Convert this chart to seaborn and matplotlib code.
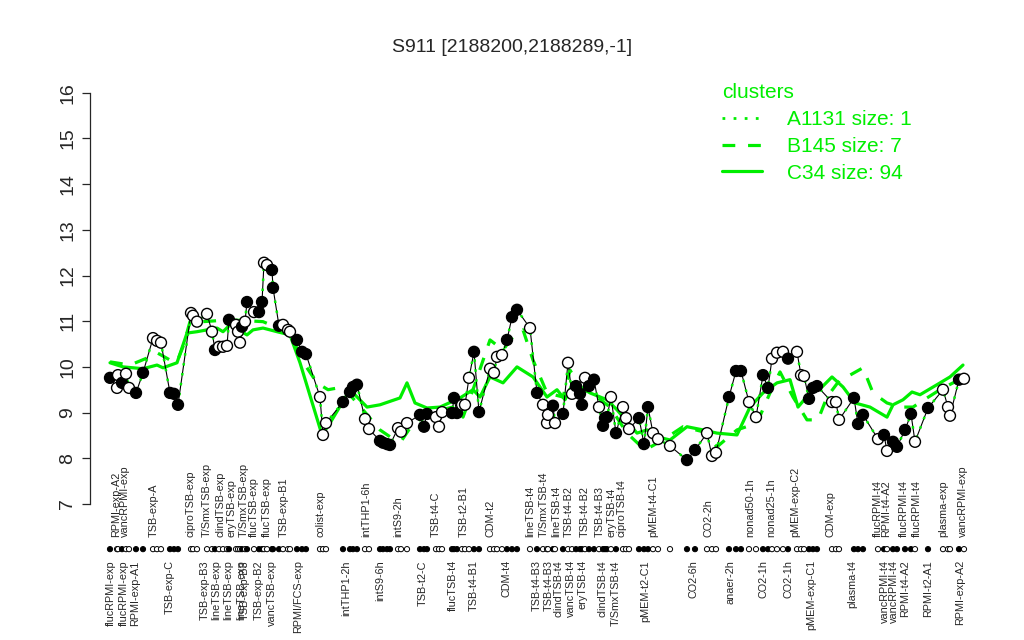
import matplotlib
matplotlib.use("Agg")
import matplotlib.pyplot as plt
from matplotlib.lines import Line2D
import seaborn as sns
import pandas as pd

# ---------------- data ----------------
title = "S911 [2188200,2188289,-1]"

sample_pos = [2.0,3.4,3.6,4.4,5.2,5.8,7.2,8.6,10.6,11.4,12.2,14.0,14.8,15.6,18.2,18.6,19.4,21.4,22.4,23.0,
              23.8,24.6,25.4,25.8,27.2,27.6,28.0,28.4,29.0,29.4,30.8,31.8,32.4,32.8,33.4,34.4,34.6,35.8,36.6,37.6,
              38.0,39.4,40.4,41.2,44.0,44.6,45.2,48.6,50.0,50.6,51.4,53.0,53.8,56.0,56.6,57.4,58.0,59.6,60.2,61.4,
              64.0,64.8,65.4,67.2,67.8,68.4,70.4,70.8,71.4,72.4,73.0,73.8,74.8,75.8,78.0,78.8,79.4,80.4,81.4,82.4,
              83.4,86.0,87.4,88.6,89.4,89.6,90.6,91.0,92.6,93.6,94.4,95.2,96.0,96.4,97.0,97.8,98.8,99.8,100.6,101.0,
              101.4,102.2,103.2,104.6,105.2,105.8,107.8,108.8,109.6,110.6,111.6,114.0,117.4,119.0,121.4,122.4,123.2,125.8,127.2,128.2,
              129.8,131.2,132.6,133.6,134.4,135.4,136.6,137.6,139.4,140.2,140.8,141.8,142.6,143.4,146.4,147.2,147.8,150.8,151.6,152.6,
              155.6,156.8,157.4,158.6,159.4,161.0,162.2,163.0,165.6,168.6,169.6,170.0,171.8,172.8]

expression = [9.76,9.54,9.82,9.65,9.85,9.54,9.43,9.87,10.63,10.57,10.53,9.43,9.41,9.17,11.18,11.12,10.99,11.16,10.77,10.37,
              10.44,10.44,10.46,11.03,10.92,10.77,10.53,10.88,10.99,11.42,11.20,11.20,11.42,12.28,12.23,12.12,11.73,10.90,10.92,10.81,
              10.77,10.59,10.33,10.28,9.34,8.51,8.77,9.23,9.45,9.56,9.61,8.86,8.64,8.38,8.34,8.31,8.29,8.66,8.58,8.77,
              8.95,8.69,8.97,8.90,8.69,9.01,8.99,9.32,8.99,9.17,9.17,9.76,10.33,9.01,9.96,9.87,10.22,10.26,10.59,11.09,
              11.25,10.85,9.43,9.17,8.77,8.95,9.15,8.77,8.97,10.09,9.41,9.58,9.41,9.17,9.76,9.58,9.72,9.12,8.71,8.88,
              8.90,9.34,8.55,9.12,8.88,8.64,8.88,8.31,9.12,8.55,8.42,8.27,7.96,8.18,8.55,8.05,8.12,9.34,9.91,9.91,
              9.23,8.90,9.82,9.54,10.18,10.31,10.33,10.18,10.33,9.82,9.80,9.30,9.54,9.58,9.23,9.23,8.84,9.32,8.75,8.95,
              8.42,8.51,8.16,8.36,8.25,8.62,8.97,8.36,9.10,9.50,9.12,8.93,9.72,9.74]

filled_flags = ("1001001100" "0111000001" "0001000101" "0110011100" "0111000111"
                "1001111000" "1110001110" "0011000011" "1010001010" "0111011011"
                "1010001110" "0011000111" "0011000100" "0111000111" "0101111010" "0010")

c34_pos = [2.0,4.6,6.6,8.6,11.4,12.6,15.4,17.4,19.4,21.4,23.4,24.6,26.0,29.4,30.6,32.6,35.4,38.0,40.0,44.4,
           46.0,50.0,53.4,56.0,57.6,60.0,61.4,63.0,65.4,68.0,72.0,74.6,76.0,78.0,80.6,83.4,86.6,89.4,91.4,93.0,
           94.6,98.0,101.4,103.4,107.4,109.4,111.4,114.0,117.4,120.6,123.4,127.4,130.0,132.6,135.4,138.0,139.6,142.0,144.4,146.4,
           148.6,151.0,154.0,157.4,158.6,160.6,162.4,164.0,167.4,170.0,172.6]
c34_val = [10.09,10.00,9.98,9.96,10.04,9.98,10.09,10.74,10.77,10.81,10.85,10.77,10.92,10.70,10.81,10.85,10.77,10.70,10.09,8.51,
           8.77,9.50,9.12,9.17,9.23,9.32,9.65,9.21,9.10,9.12,9.32,9.50,9.34,9.78,9.65,10.00,9.78,9.34,9.50,9.28,
           9.65,9.43,9.28,9.06,8.55,8.62,8.47,8.40,8.69,8.62,8.55,8.51,9.12,9.43,9.65,9.72,9.12,9.43,9.56,9.78,
           9.56,9.21,9.12,8.90,9.17,9.28,9.45,9.39,9.61,9.78,10.04]

b145_pos = [2.0,6.0,10.0,11.4,14.0,15.4,16.6,18.0,20.6,26.0,32.6,38.0,40.6,43.4,45.6,48.6,52.6,56.0,58.0,60.4,
            62.0,65.4,70.6,72.6,74.6,78.0,80.6,82.6,84.6,86.6,89.4,92.6,94.0,96.0,99.4,102.0,105.4,109.0,112.6,116.6,
            120.6,123.4,127.4,131.4,134.0,136.0,138.6,141.4,143.6,145.4,148.0,150.0,152.6,154.6,157.4,160.0,162.6,165.4,168.0,170.6,
            172.4]
b145_val = [10.11,10.04,10.22,10.31,10.15,10.11,10.44,10.99,10.99,11.03,10.99,10.74,10.11,9.65,9.50,9.56,9.06,8.62,8.47,8.40,
            8.66,8.99,9.12,8.90,9.50,10.59,10.37,10.66,10.81,10.15,9.43,9.34,9.93,9.56,9.34,9.12,8.55,8.18,8.40,8.69,
            8.58,8.25,8.62,8.77,9.43,9.89,9.34,8.84,8.84,9.34,9.72,9.82,9.98,9.43,9.21,9.12,9.12,9.32,9.50,9.65,
            9.72]

top_labels = ["RPMI-exp-A2","vancRPMI-exp","TSB-exp-A","ciproTSB-exp","T/SmxTSB-exp","clindTSB-exp","eryTSB-exp",
              "T/SmxTSB-exp","flucTSB-exp","flucTSB-exp","TSB-exp-B1","colist-exp","intTHP1-6h","intS9-2h","TSB-t4-C",
              "TSB-t2-B1","CDM-t2","lineTSB-t4","T/SmxTSB-t4","lineTSB-t4","TSB-t4-B2","TSB-t4-B2","TSB-t4-B3","eryTSB-t4",
              "ciproTSB-t4","pMEM-t4-C1","CO2-2h","nonad50-1h","nonad25-1h","pMEM-exp-C2","CDM-exp","flucRPMI-t4",
              "RPMI-t4-A2","flucRPMI-t4","flucRPMI-t4","plasma-exp","vancRPMI-exp"]
top_label_pos = [3.3,5.0,10.7,18.0,21.3,24.0,26.3,28.8,30.7,33.3,36.8,44.0,53.2,59.7,67.2,72.7,78.0,86.1,88.7,91.3,
                 93.7,97.0,100.0,102.3,104.3,110.7,121.7,130.0,134.3,139.0,146.1,155.5,157.2,160.7,163.3,168.7,172.5]

bottom_labels = ["flucRPMI-exp","flucRPMI-exp","RPMI-exp-A1","TSB-exp-C","TSB-exp-B3","lineTSB-exp","lineTSB-exp",
                 "lineTSB-exp","TSB-exp-B3","TSB-exp-B2","vancTSB-exp","RPMI/FCS-exp","intTHP1-2h","intS9-6h","TSB-t2-C",
                 "flucTSB-t4","TSB-t4-B1","CDM-t4","TSB-t4-B3","TSB-t4-B3","clindTSB-t4","vancTSB-t4","eryTSB-t4",
                 "clindTSB-t4","T/SmxTSB-t4","pMEM-t2-C1","CO2-6h","anaer-2h","CO2-1h","CO2-1h","pMEM-exp-C1","plasma-t4",
                 "vancRPMI-t4","vancRPMI-t4","RPMI-t4-A2","RPMI-t2-A1","RPMI-exp-A2"]
bottom_label_pos = [2.1,4.7,7.0,14.0,21.0,23.2,25.7,28.3,29.0,31.7,34.3,39.7,49.3,56.0,64.5,70.5,74.8,81.3,87.3,89.7,
                    91.7,94.1,96.5,100.5,103.2,109.0,118.7,126.0,132.7,137.7,142.3,150.5,157.0,158.7,161.0,165.7,172.0]

legend_labels = ["A1131 size: 1", "B145 size: 7", "C34 size: 94"]
y_ticks = [7, 8, 9, 10, 11, 12, 13, 14, 15, 16]

# ---------------- styling ----------------
sns.set_style("white")
plt.rcParams["font.family"] = ["Liberation Sans", "DejaVu Sans"]
GREEN = "#00ee00"

df = pd.DataFrame({"pos": sample_pos, "expr": expression,
                   "kind": ["filled" if f == "1" else "open" for f in filled_flags]})
df["strip"] = 6.01

fig = plt.figure(figsize=(10.24, 6.4), dpi=100)
ax = fig.add_axes([90/1024, 1-556/640, 900/1024, 476/640])

sns.lineplot(x=c34_pos, y=c34_val, ax=ax, color=GREEN, lw=2.3, sort=False, estimator=None, zorder=2)
sns.lineplot(x=b145_pos, y=b145_val, ax=ax, color=GREEN, lw=2.3, sort=False, estimator=None,
             zorder=2).lines[-1].set_dashes([4, 4])
sns.lineplot(data=df, x="pos", y="expr", ax=ax, color="black", lw=0.8, sort=False, estimator=None, zorder=3)
ln = sns.lineplot(data=df, x="pos", y="expr", ax=ax, color=GREEN, lw=1.8, sort=False, estimator=None, zorder=4).lines[-1]
ln.set_dashes([1, 3])
pal = {"filled": "black", "open": "white"}
sns.scatterplot(data=df, x="pos", y="expr", hue="kind", palette=pal, edgecolor="black", linewidth=1.0,
                s=62, ax=ax, legend=False, zorder=5)
sns.scatterplot(data=df, x="pos", y="strip", hue="kind", palette=pal, edgecolor="black",
                linewidth=0.7, s=14, ax=ax, legend=False, zorder=5)

ax.set_xlim(-2, 178)
ax.set_ylim(5.86, 16.28)
ax.set_xlabel("")
ax.set_ylabel("")
for s in ["top", "right", "bottom"]:
    ax.spines[s].set_visible(False)
ax.spines["left"].set_bounds(7, 16)
ax.spines["left"].set_linewidth(0.9)
ax.set_yticks(y_ticks)
ax.set_yticklabels([str(t) for t in y_ticks], rotation=90, va="center", fontsize=14)
ax.tick_params(axis="y", length=6, width=0.9, direction="out", pad=4, left=True)

ax.set_xticks(bottom_label_pos)
ax.set_xticklabels(bottom_labels, rotation=90, fontsize=7.8, va="top", ha="center")
ax.tick_params(axis="x", length=0, pad=3)

for lab, p in zip(top_labels, top_label_pos):
    ax.text(p, 6.28, lab, rotation=90, ha="center", va="bottom", fontsize=7.8)

fig.suptitle(title, x=0.5, y=1-47/640, va="center", fontsize=14)

handles = [Line2D([], [], color=GREEN, lw=2, dashes=[1, 3]),
           Line2D([], [], color=GREEN, lw=2.3, dashes=[4, 4]),
           Line2D([], [], color=GREEN, lw=2.3)]
leg = ax.legend(handles, legend_labels, title="clusters", loc="upper left",
                bbox_to_anchor=(722/1024, 1-83/640), bbox_transform=fig.transFigure,
                frameon=False, fontsize=15, title_fontsize=15, handlelength=1.9,
                handletextpad=1.2, labelspacing=0.38, borderpad=0, borderaxespad=0,
                alignment="left")
leg.get_title().set_color(GREEN)
for t in leg.get_texts():
    t.set_color(GREEN)

fig.savefig("out.png", dpi=100)
